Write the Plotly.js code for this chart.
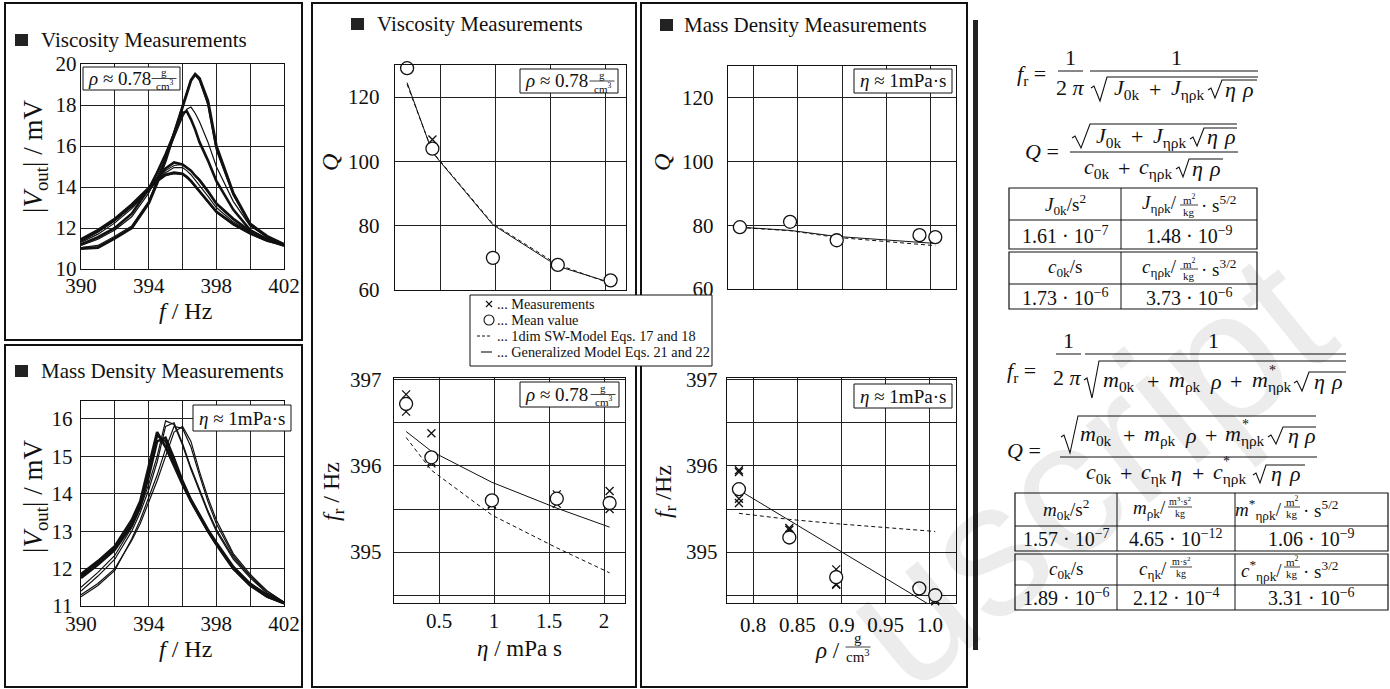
<!DOCTYPE html>
<html><head><meta charset="utf-8">
<script src="https://cdn.plot.ly/plotly-3.0.1.min.js"></script>
<style>html,body{margin:0;padding:0;background:#fff;}#chart{width:1390px;height:689px;}</style>
</head><body><div id="chart"></div>
<script>
// ---------- data ----------
const visF = [390,391,392,393,394,394.5,395,395.5,396,396.25,396.5,396.75,397,397.5,398,399,400,401,402];
const visA1 = [11.0,11.05,11.5,12.0,13.2,14.2,15.3,16.6,17.9,18.6,19.2,19.5,19.3,18.2,16.0,13.7,12.2,11.6,11.2];
const visA2 = [11.05,11.15,11.6,12.1,13.3,14.3,15.4,16.7,18.0,18.7,19.25,19.45,19.2,18.0,15.8,13.6,12.15,11.55,11.2];
const visB1 = [11.2,11.55,12.0,12.7,13.9,14.7,15.6,16.6,17.6,17.7,17.3,16.8,16.2,15.3,14.3,12.9,11.9,11.45,11.15];
const visB2 = [11.15,11.45,11.9,12.55,13.7,14.5,15.4,16.4,17.4,17.8,17.9,17.6,17.2,16.2,15.0,13.3,12.1,11.55,11.2];
const visC1 = [11.45,11.9,12.45,13.15,13.95,14.45,14.9,15.2,15.1,14.95,14.8,14.55,14.35,13.8,13.2,12.45,11.85,11.45,11.2];
const visC2 = [11.35,11.8,12.35,13.05,13.85,14.35,14.8,15.05,15.1,14.95,14.8,14.55,14.3,13.75,13.15,12.4,11.85,11.45,11.2];
const visD1 = [11.3,11.7,12.25,12.95,13.8,14.3,14.7,14.95,14.95,14.8,14.6,14.35,14.1,13.55,13.0,12.3,11.8,11.4,11.2];
const visE1 = [11.4,11.85,12.4,13.1,13.9,14.3,14.6,14.7,14.65,14.5,14.3,14.05,13.8,13.25,12.8,12.2,11.75,11.4,11.15];
const visE2 = [11.35,11.8,12.35,13.05,13.85,14.25,14.55,14.65,14.6,14.45,14.25,14.0,13.75,13.2,12.75,12.15,11.7,11.35,11.15];

const mdF = [390,391,392,393,393.5,394,394.5,395,395.5,396,396.5,397,397.5,398,399,400,401,402];
const md1 = [11.3,11.6,12.0,12.75,13.2,13.75,14.35,15.0,15.65,15.8,15.4,14.6,13.9,13.3,12.4,11.85,11.4,11.1];
const md2 = [11.25,11.55,11.95,12.8,13.3,13.9,14.5,15.2,15.8,15.75,15.25,14.5,13.8,13.2,12.35,11.8,11.35,11.1];
const md3 = [11.5,11.9,12.35,13.1,13.6,14.25,15.0,15.95,15.85,15.3,14.65,14.05,13.5,13.0,12.25,11.75,11.35,11.1];
const md4 = [11.4,11.8,12.25,13.0,13.5,14.1,14.85,15.8,15.9,15.35,14.7,14.1,13.55,13.05,12.3,11.8,11.4,11.1];
const md5 = [11.85,12.2,12.6,13.3,13.8,14.7,15.65,15.25,14.75,14.25,13.8,13.4,13.0,12.65,12.0,11.55,11.25,11.08];
const md6 = [11.75,12.1,12.5,13.15,13.65,14.45,15.4,15.5,14.95,14.35,13.85,13.45,13.05,12.7,12.05,11.6,11.3,11.08];
const md7 = [11.8,12.15,12.55,13.2,13.7,14.55,15.55,15.4,14.85,14.3,13.8,13.4,13.0,12.65,12.0,11.55,11.25,11.07];

const eta = [0.2,0.43,0.98,1.57,2.05];
const qMeanEta = [129,104,70,67.8,63];
const etaQX = [0.2,0.2,0.43,0.43,0.98,0.98,1.57,1.57,2.05,2.05];
const qMeasEta = [129.3,128.6,106.8,103.8,70.3,69.7,68.1,67.5,63.2,62.8];
const qGenEta = [124.5,102.8,80.3,67.4,62.3];
const qSwEta = [124.0,103.0,80.6,67.9,62.0];
const frMeanEta = [396.72,396.1,395.6,395.62,395.57];
const etaFX = [0.2,0.2,0.43,0.43,0.43,0.98,0.98,1.57,1.57,2.05,2.05];
const frMeasEta = [396.83,396.63,396.38,396.03,396.05,395.55,395.56,395.67,395.56,395.71,395.5];
const frGenEta = [396.4,396.17,395.81,395.51,395.29];
const frSwEta = [396.33,395.95,395.43,395.05,394.76];

const rho = [0.784,0.841,0.894,0.988,1.006];
const qMeanRho = [79.4,81.1,75.3,76.9,76.3];
const qGenRho = [79.4,78.4,76.5,74.8,74.3];
const qSwRho = [79.3,78.3,76.2,74.1,73.6];
const frMeanRho = [395.73,395.17,394.71,394.58,394.5];
const rhoFX = [0.784,0.784,0.784,0.784,0.841,0.841,0.894,0.894,0.894,0.988,1.006,1.006];
const frMeasRho = [395.95,395.93,395.62,395.57,395.28,395.26,394.8,394.63,394.62,394.57,394.45,394.43];
const frGenRho = [395.72,395.37,395.04,394.46,394.35];
const frSwRho = [395.45,395.38,395.33,395.26,395.24];

// ---------- helpers ----------
const W=1390,H=689;
const FF='Liberation Serif, DejaVu Serif, serif';
const INK='#111';
const ann=[],shp=[];
function T(x,y,text,size,opt){ann.push(Object.assign({xref:'paper',yref:'paper',x:x/W,y:1-y/H,text:text,showarrow:false,
  font:{family:FF,size:size,color:INK},xanchor:'center',yanchor:'middle',borderpad:0},opt||{}));}
function TL(x,y,text,size){T(x,y,text,size,{xanchor:'left'});}
function L(x0,y0,x1,y1,w,dash){shp.push({type:'line',xref:'paper',yref:'paper',x0:x0/W,y0:1-y0/H,x1:x1/W,y1:1-y1/H,
  line:{color:INK,width:w||1,dash:dash||'solid'}});}
function R(x0,y0,x1,y1,w,fill){shp.push({type:'rect',xref:'paper',yref:'paper',x0:x0/W,y0:1-y0/H,x1:x1/W,y1:1-y1/H,
  line:{color:INK,width:w===undefined?1:w},fillcolor:fill||'rgba(0,0,0,0)'});}
function SQ(pts,w){shp.push({type:'path',xref:'paper',yref:'paper',
  path:'M'+pts.map(p=>(p[0]/W).toFixed(5)+','+(1-p[1]/H).toFixed(5)).join(' L'),line:{color:INK,width:w||1.1}});}
function FR(xc,yb,num,den,size,w){T(xc,yb-size*0.58,num,size);T(xc,yb+size*0.62,den,size);L(xc-w/2,yb,xc+w/2,yb,0.8);}
function dom(a,b){return [a/W,b/W];}
function domY(top,bot){return [1-bot/H,1-top/H];}
function ax(d,range,vals,text,stand,anchor){
  return {domain:d,range:range,tickvals:vals,ticktext:text,showgrid:true,gridcolor:'#222',gridwidth:1,
    showline:true,mirror:true,linecolor:INK,linewidth:1.4,zeroline:false,ticks:'',anchor:anchor,
    tickfont:{family:FF,size:21,color:INK},ticklabelstandoff:stand,fixedrange:true};
}

// ---------- traces ----------
const traces=[];
function curve(x,y,xa,ya,w){traces.push({x:x,y:y,xaxis:xa,yaxis:ya,mode:'lines',line:{color:INK,width:w},hoverinfo:'skip',showlegend:false});}
[[visA2,1.2],[visB2,1.2],[visC2,1.2],[visD1,1.2],[visE2,1.2],[visA1,2.9],[visB1,2.6],[visC1,2.6],[visE1,2.6]].forEach(c=>curve(visF,c[0],'x','y',c[1]));
[[md1,1.2],[md2,1.2],[md3,1.2],[md4,1.2],[md5,2.6],[md6,2.4],[md7,2.2]].forEach(c=>curve(mdF,c[0],'x2','y2',c[1]));

function panel(xm,ySw,yGen,xX,yX,yMean,xa,ya){
  traces.push({x:xm,y:ySw,xaxis:xa,yaxis:ya,mode:'lines',line:{color:INK,width:1,dash:'4px,3px'},hoverinfo:'skip',showlegend:false});
  traces.push({x:xm,y:yGen,xaxis:xa,yaxis:ya,mode:'lines',line:{color:INK,width:1},hoverinfo:'skip',showlegend:false});
  traces.push({x:xX,y:yX,xaxis:xa,yaxis:ya,mode:'markers',marker:{symbol:'x-thin-open',size:8,color:INK,line:{color:INK,width:1.3}},hoverinfo:'skip',showlegend:false,cliponaxis:false});
  traces.push({x:xm,y:yMean,xaxis:xa,yaxis:ya,mode:'markers',marker:{symbol:'circle',size:13,color:'#fff',line:{color:INK,width:1.3}},hoverinfo:'skip',showlegend:false,cliponaxis:false});
}
panel(eta,qSwEta,qGenEta,etaQX,qMeasEta,qMeanEta,'x3','y3');
panel(eta,frSwEta,frGenEta,etaFX,frMeasEta,frMeanEta,'x4','y4');
panel(rho,qSwRho,qGenRho,rho,qMeanRho,qMeanRho,'x5','y5');
panel(rho,frSwRho,frGenRho,rhoFX,frMeasRho,frMeanRho,'x6','y6');

// ---------- decorations ----------
T(1085,470,'uscript',190,{textangle:-39,font:{family:'Liberation Sans, Arial, sans-serif',size:190,color:'rgba(0,0,0,0.075)'}});

R(5,3,302,340,2); R(5,345,302,687,2); R(312,3,636,687,2); R(641,3,967,687,2);
R(973,20,978,650,0,'#222');

[[15,34],[15,365],[351,18],[660,19]].forEach(p=>R(p[0],p[1],p[0]+13,p[1]+12,0,'#222'));
TL(40,40,'Viscosity Measurements',21);
TL(40,371,'Mass Density Measurements',21);
TL(376,24,'Viscosity Measurements',21);
TL(683,25,'Mass Density Measurements',21);

function rhoBox(x0,y0,x1,y1){R(x0,y0,x1,y1,1,'#fff');const yc=(y0+y1)/2;TL(x0+4,yc,'<i>ρ</i> ≈ 0.78',19);FR(x1-16,yc,'g','cm<sup>3</sup>',11,25);}
function etaBox(x0,y0,x1,y1){R(x0,y0,x1,y1,1,'#fff');T((x0+x1)/2,(y0+y1)/2,'<i>η</i> ≈ 1mPa·s',19);}
rhoBox(83,67,180,90); rhoBox(520,69,618,93); rhoBox(520,382,619,407);
etaBox(193,405,291,431); etaBox(854,69,952,93); etaBox(854,384,952,408);

T(35,157,'|<i>V</i><sub>out</sub>| / mV',27,{textangle:-90});
T(185,311,'<i>f</i> / Hz',24);
T(35,497,'|<i>V</i><sub>out</sub>| / mV',27,{textangle:-90});
T(185,649,'<i>f</i> / Hz',24);
T(330,163,'<i>Q</i>',24,{textangle:-90});
T(333,492,'<i>f</i><sub>r</sub> / Hz',24,{textangle:-90});
T(519,648,'<i>η</i> / mPa s',23);
T(662,163,'<i>Q</i>',24,{textangle:-90});
T(665,492,'<i>f</i><sub>r</sub> /Hz',24,{textangle:-90});
T(841,650,'<i>ρ</i> /',23,{xanchor:'right'}); FR(858,647,'g','cm<sup>3</sup>',15,25);

// legend
R(470,295,712,366,1,'#fff');
L(486,301,492,307,1.1); L(486,307,492,301,1.1);
shp.push({type:'circle',xref:'paper',yref:'paper',x0:484/W,x1:494/W,y0:1-325/H,y1:1-315/H,line:{color:INK,width:1.1}});
L(477,336,492,336,1,'3px,2px'); L(481,352,492,352,1.1);
const LS=14.3;
TL(496,304,'... Measurements',LS);
TL(496,320,'... Mean value',LS);
TL(496,336,'... 1dim SW-Model Eqs. 17 and 18',LS);
TL(496,352,'... Generalized Model Eqs. 21 and 22',LS);

// ---------- equations (right) ----------
const ES=22;
function SEQ(y,pieces){pieces.forEach(p=>{
  if(p[1]==='+') T(p[0],y,'+',ES); else TL(p[0],y,p[1],ES);
  if(p[2]) TL(p[0]+p[2],y-11,'*',14);
});}
const J0='<i>J</i><sub>0k</sub>', Jn='<i>J</i><sub>ηρk</sub>', C0='<i>c</i><sub>0k</sub>', Cn='<i>c</i><sub>ηρk</sub>';
const M0='<i>m</i><sub>0k</sub>', Mr='<i>m</i><sub>ρk</sub>', Mn='<i>m</i><sub>ηρk</sub>', Ck='<i>c</i><sub>ηk</sub>';
const ETA='<i>η</i>', RHO='<i>ρ</i>';
// eq 1
T(1047,75,'<i>f</i><sub>r</sub> =',ES,{xanchor:'right'});
T(1070,57,'1',ES); L(1058,71,1083,71,1); T(1070,88,'2 <i>π</i>',ES);
T(1176,57,'1',ES); L(1090,71,1258,71,1);
SQ([[1091,88],[1094,86],[1100,101],[1107,77],[1258,77]]);
SEQ(89,[[1113,J0],[1155,'+'],[1170,Jn],[1224,ETA],[1241,RHO]]);
SQ([[1208,90],[1211,88],[1215,98],[1222,80],[1257,80]]);
// eq 2
T(1060,152,'<i>Q</i> =',ES,{xanchor:'right'});
SQ([[1072,138],[1075,136],[1081,148],[1090,124],[1237,124]]);
SEQ(137,[[1095,J0],[1137,'+'],[1152,Jn],[1206,ETA],[1223,RHO]]);
SQ([[1190,139],[1193,137],[1197,146],[1204,128],[1237,128]]);
L(1070,152,1238,152,1);
SEQ(168,[[1083,C0],[1124,'+'],[1138,Cn],[1191,ETA],[1208,RHO]]);
SQ([[1176,169],[1179,167],[1183,177],[1189,159],[1223,159]]);
// table 1
R(1009,188,1257,249,1.2); L(1009,220,1257,220,1); L(1121,188,1121,249,1);
R(1009,252,1257,309,1.2); L(1009,284,1257,284,1); L(1121,252,1121,309,1);
const TS=19;
T(1065,204,'<i>J</i><sub>0k</sub>/s<sup>2</sup>',TS);
T(1178,204,'<i>J</i><sub>ηρk</sub>/',TS,{xanchor:'right'}); FR(1189,205,'m<sup>2</sup>','kg',11,18); TL(1200,204,'· s<sup>5/2</sup>',TS);
T(1065,235,'1.61 · 10<sup>−7</sup>',20); T(1189,235,'1.48 · 10<sup>−9</sup>',20);
T(1065,268,'<i>c</i><sub>0k</sub>/s',TS);
T(1178,268,'<i>c</i><sub>ηρk</sub>/',TS,{xanchor:'right'}); FR(1189,269,'m<sup>2</sup>','kg',11,18); TL(1200,268,'· s<sup>3/2</sup>',TS);
T(1065,297,'1.73 · 10<sup>−6</sup>',20); T(1189,297,'3.73 · 10<sup>−6</sup>',20);
// eq 3
T(1037,372,'<i>f</i><sub>r</sub> =',ES,{xanchor:'right'});
T(1068,340,'1',ES); L(1056,354,1081,354,1); T(1067,378,'2 <i>π</i>',ES);
T(1213,340,'1',ES); L(1085,354,1346,354,1);
SQ([[1084,380],[1087,378],[1092,398],[1099,361],[1346,361]]);
SEQ(381,[[1102,M0],[1153,'+'],[1168,Mr],[1209,RHO],[1236,'+'],[1251,Mn,17],[1313,ETA],[1330,RHO]]);
SQ([[1294,383],[1297,381],[1302,391],[1309,372],[1346,372]]);
// eq 4
T(1042,450,'<i>Q</i> =',ES,{xanchor:'right'});
SQ([[1061,437],[1064,435],[1070,453],[1078,416],[1316,416]]);
SEQ(435,[[1079,M0],[1129,'+'],[1143,Mr],[1184,RHO],[1211,'+'],[1224,Mn,17],[1287,ETA],[1303,RHO]]);
SQ([[1268,437],[1271,435],[1276,444],[1283,427],[1316,427]]);
L(1060,457,1317,457,1);
SEQ(473,[[1085,C0],[1126,'+'],[1140,Ck],[1170,ETA],[1198,'+'],[1212,Cn,10],[1270,ETA],[1288,RHO]]);
SQ([[1253,475],[1256,473],[1260,483],[1266,465],[1305,465]]);
// table 2
R(1015,493,1388,551,1.2); L(1015,526,1388,526,1); L(1117,493,1117,551,1); L(1235,493,1235,551,1);
R(1015,554,1388,610,1.2); L(1015,585,1388,585,1); L(1117,554,1117,610,1); L(1235,554,1235,610,1);
T(1066,509,'<i>m</i><sub>0k</sub>/s<sup>2</sup>',TS);
T(1167,509,'<i>m</i><sub>ρk</sub>/',TS,{xanchor:'right'}); FR(1180,507,'m<sup>3</sup>·s<sup>2</sup>','kg',10,24);
T(1283,509,'<i>m</i><sup>*</sup><sub>ηρk</sub>/',TS,{xanchor:'right'}); FR(1292,507,'m<sup>2</sup>','kg',11,16); TL(1302,509,'· s<sup>5/2</sup>',TS);
T(1066,538,'1.57 · 10<sup>−7</sup>',20); T(1176,538,'4.65 · 10<sup>−12</sup>',20); T(1311,538,'1.06 · 10<sup>−9</sup>',20);
T(1066,570,'<i>c</i><sub>0k</sub>/s',TS);
T(1168,570,'<i>c</i><sub>ηk</sub>/',TS,{xanchor:'right'}); FR(1181,567,'m·s<sup>2</sup>','kg',10,22);
T(1283,570,'<i>c</i><sup>*</sup><sub>ηρk</sub>/',TS,{xanchor:'right'}); FR(1292,567,'m<sup>2</sup>','kg',11,16); TL(1302,570,'· s<sup>3/2</sup>',TS);
T(1066,597,'1.89 · 10<sup>−6</sup>',20); T(1176,597,'2.12 · 10<sup>−4</sup>',20); T(1311,597,'3.31 · 10<sup>−6</sup>',20);

// ---------- layout ----------
const layout={width:W,height:H,margin:{l:0,r:0,t:0,b:0},paper_bgcolor:'#fff',plot_bgcolor:'#fff',showlegend:false,
  font:{family:FF,color:INK},
  xaxis: ax(dom(81,284),[390,402],[390,392,394,396,398,400,402],['390','','394','','398','','402'],-3,'y'),
  yaxis: ax(domY(64,269),[10,20],[10,12,14,16,18,20],['10','12','14','16','18','20'],-1,'x'),
  xaxis2:ax(dom(81,284),[390,402],[390,392,394,396,398,400,402],['390','','394','','398','','402'],-2,'y2'),
  yaxis2:ax(domY(401,606),[11,16.48],[11,12,13,14,15,16],['11','12','13','14','15','16'],3,'x2'),
  xaxis3:ax(dom(395,626),[0.09,2.19],[0.5,1,1.5,2],['','','',''],2,'y3'),
  yaxis3:ax(domY(65,290),[60,130],[60,80,100,120],['60','80','100','120'],10,'x3'),
  xaxis4:ax(dom(394,625),[0.09,2.19],[0.5,1,1.5,2],['0.5','1','1.5','2'],-2,'y4'),
  yaxis4:ax(domY(378,603),[394.41,397.02],[394.5,395,395.5,396,396.5,397],['','395','','396','','397'],7,'x4'),
  xaxis5:ax(dom(728,956),[0.7705,1.0295],[0.8,0.85,0.9,0.95,1.0],['','','','',''],2,'y5'),
  yaxis5:ax(domY(66,289),[60,130],[60,80,100,120],['60','80','100','120'],9,'x5'),
  xaxis6:ax(dom(727,956),[0.7705,1.0295],[0.8,0.85,0.9,0.95,1.0],['0.8','0.85','0.9','0.95','1.0'],2,'y6'),
  yaxis6:ax(domY(378,603),[394.41,397.02],[394.5,395,395.5,396,396.5,397],['','395','','396','','397'],4,'x6'),
  annotations:ann,shapes:shp};
Plotly.newPlot('chart',traces,layout,{displayModeBar:false,staticPlot:true});
</script></body></html>
